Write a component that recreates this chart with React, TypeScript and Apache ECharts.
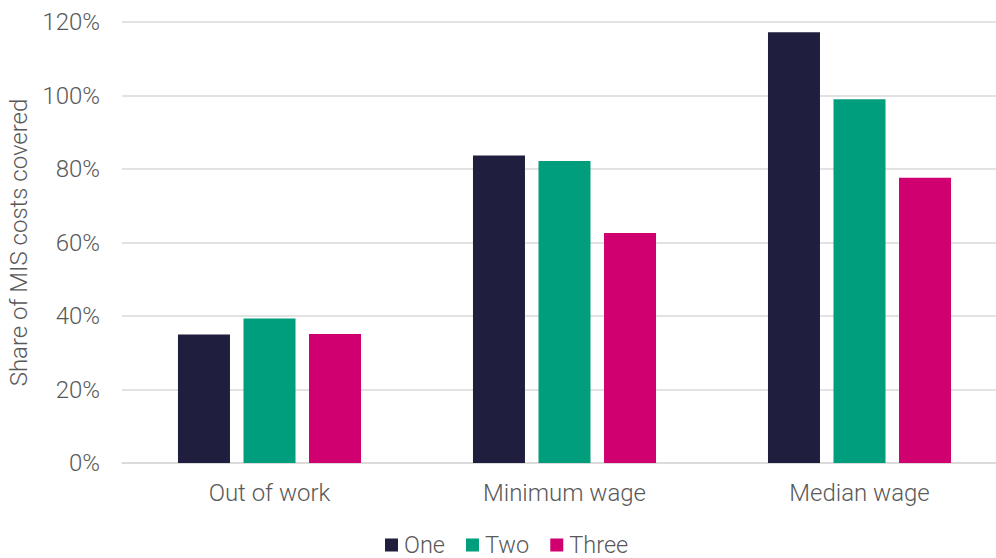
import React, { useEffect, useRef } from "react";
import * as echarts from "echarts";

const categories = ["Out of work", "Minimum wage", "Median wage"];
const seriesNames = ["One", "Two", "Three"];
const oneValues = [35.0, 83.7, 117.2];
const twoValues = [39.3, 82.2, 99.0];
const threeValues = [35.1, 62.6, 77.6];
const colors = ["#201E3E", "#009E7D", "#D10070"];

export default function App() {
  const ref = useRef<HTMLDivElement>(null);
  useEffect(() => {
    document.body.style.margin = "0";
    const chart = echarts.init(ref.current!, null, { renderer: "svg" });
    const font = "Roboto";
    const values = [oneValues, twoValues, threeValues];
    chart.setOption({
      animation: false,
      textStyle: { fontFamily: font, fontWeight: 300 },
      grid: { left: 122, right: -11, top: 22, bottom: 95, containLabel: false, outerBoundsMode: "none" },
      legend: {
        bottom: -4,
        left: 380,
        icon: "rect",
        itemWidth: 13,
        itemHeight: 13,
        itemGap: 21,
        textStyle: { fontFamily: font, fontWeight: 300, fontSize: 23.5, color: "#595959", padding: [0, 0, 0, 1] },
        data: seriesNames,
      },
      xAxis: {
        type: "category",
        data: categories,
        axisLine: { lineStyle: { color: "#d9d9d9", width: 1.5 } },
        axisTick: { show: false },
        axisLabel: { fontFamily: font, fontWeight: 300, fontSize: 24, color: "#595959", margin: 18 },
      },
      yAxis: {
        type: "value",
        min: 0,
        max: 120,
        interval: 20,
        name: "Share of MIS costs covered",
        nameLocation: "middle",
        nameGap: 91,
        nameTextStyle: { fontFamily: font, fontWeight: 300, fontSize: 24, color: "#595959" },
        axisLabel: { formatter: "{value}%", fontFamily: font, fontWeight: 300, fontSize: 24, color: "#595959", margin: 22 },
        splitLine: { lineStyle: { color: "#d9d9d9", width: 1.5 } },
        axisLine: { show: false },
        axisTick: { show: false },
      },
      series: seriesNames.map((name, i) => ({
        name,
        type: "bar",
        data: values[i],
        barWidth: 52,
        barGap: "26%",
        itemStyle: { color: colors[i] },
      })),
    });
    return () => chart.dispose();
  }, []);
  return <div ref={ref} style={{ width: 996, height: 558 }} />;
}
